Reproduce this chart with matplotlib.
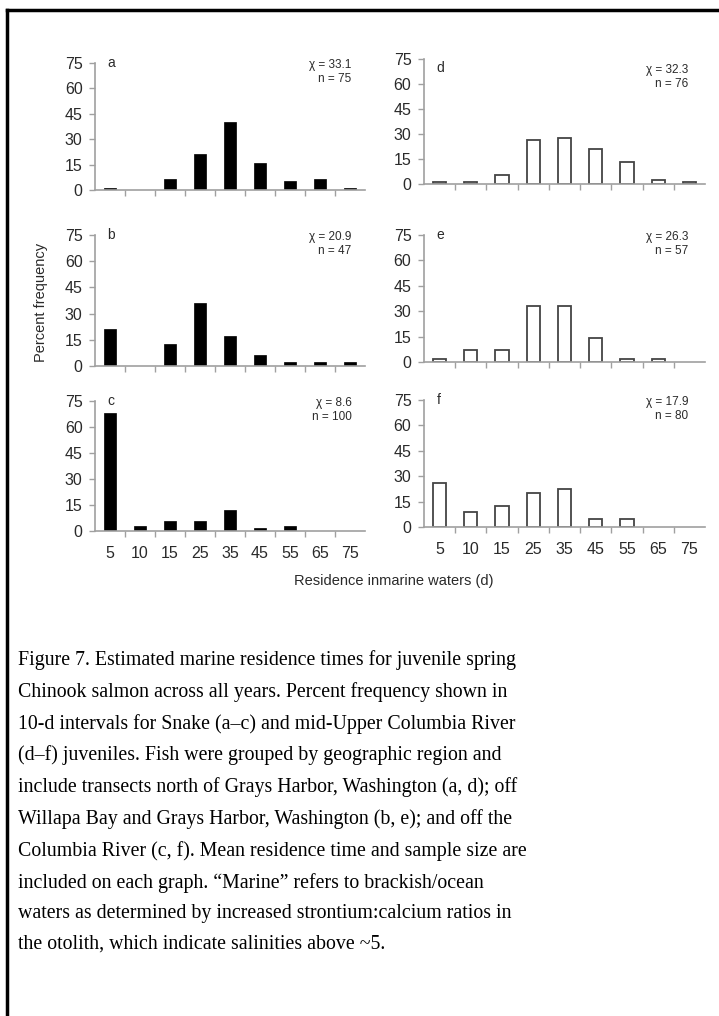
import matplotlib
matplotlib.use("Agg")
import matplotlib.pyplot as plt
from matplotlib.lines import Line2D
import numpy as np

plt.rcParams['font.family'] = ['Liberation Sans', 'DejaVu Sans']

# residence bins (d)
bins = ["5", "10", "15", "25", "35", "45", "55", "65", "75"]

# percent frequency, Snake River (left column)
snake_a = [1.3, 0, 6.7, 21.3, 40.0, 16.0, 5.3, 6.7, 1.3]
snake_b = [21.3, 0, 12.8, 36.2, 17.0, 6.4, 2.1, 2.1, 2.1]
snake_c = [68, 3, 6, 6, 12, 2, 3, 0, 0]
# percent frequency, mid-Upper Columbia (right column)
muc_d = [1.3, 1.3, 5.3, 26.3, 27.6, 21.1, 13.2, 2.6, 1.3]
muc_e = [1.75, 7.0, 7.0, 33.3, 33.3, 14.0, 1.75, 1.75, 0]
muc_f = [26.25, 8.75, 12.5, 20.0, 22.5, 5.0, 5.0, 0, 0]

panel_letters = ["a", "b", "c", "d", "e", "f"]
means = ["33.1", "20.9", "8.6", "32.3", "26.3", "17.9"]
sizes = ["75", "47", "100", "76", "57", "80"]

yticks = [0, 15, 30, 45, 60, 75]

caption = [
    "Figure 7. Estimated marine residence times for juvenile spring",
    "Chinook salmon across all years. Percent frequency shown in",
    "10-d intervals for Snake (a\u2013c) and mid-Upper Columbia River",
    "(d\u2013f) juveniles. Fish were grouped by geographic region and",
    "include transects north of Grays Harbor, Washington (a, d); off",
    "Willapa Bay and Grays Harbor, Washington (b, e); and off the",
    "Columbia River (c, f). Mean residence time and sample size are",
    "included on each graph. \u201cMarine\u201d refers to brackish/ocean",
    "waters as determined by increased strontium:calcium ratios in",
    "the otolith, which indicate salinities above ~5.",
]

W, H = 719, 1016
fig = plt.figure(figsize=(W / 100, H / 100), dpi=100)
fig.patch.set_facecolor("white")

# frame lines (top and left)
fig.add_artist(Line2D([7 / W, 1], [1 - 10 / H, 1 - 10 / H], color="black", lw=2.5, transform=fig.transFigure))
fig.add_artist(Line2D([7 / W, 7 / W], [0, 1 - 10 / H], color="black", lw=2.5, transform=fig.transFigure))

def px_axes(x0, x1, ytop, ybot):
    return fig.add_axes([x0 / W, 1 - ybot / H, (x1 - x0) / W, (ybot - ytop) / H])

# (x0, x1, y75, y0) in pixels
boxes = [
    (95, 365, 63, 190), (95, 365, 235, 366), (95, 365, 401, 531),
    (424, 705, 59, 184), (424, 705, 235, 362), (424, 705, 400, 527),
]
series = [snake_a, snake_b, snake_c, muc_d, muc_e, muc_f]
axcol = "#a0a0a0"
txtcol = "#2a2a2a"
x = np.arange(len(bins))

for i, (box, vals) in enumerate(zip(boxes, series)):
    ax = px_axes(*box)
    right = i >= 3
    vals = np.array(vals, dtype=float)
    keep = vals > 0
    if right:
        ax.bar(x[keep], vals[keep], width=0.42, facecolor="white", edgecolor="#444444", linewidth=1.3)
    else:
        ax.bar(x[keep], vals[keep], width=0.42, color="black", edgecolor="black", linewidth=0.5)
    ax.set_xlim(-0.5, len(bins) - 0.5)
    ax.set_ylim(0, 75)
    for s in ["top", "right"]:
        ax.spines[s].set_visible(False)
    for s in ["left", "bottom"]:
        ax.spines[s].set_color(axcol)
        ax.spines[s].set_linewidth(1.2)
    ax.set_yticks(yticks)
    ax.tick_params(axis="y", direction="out", length=4, width=1, color=axcol,
                   labelsize=11.5, labelcolor=txtcol, pad=5)
    ax.set_xticks(x)
    ax.set_xticks(x[:-1] + 0.5, minor=True)
    ax.tick_params(axis="x", which="minor", direction="out", length=4, width=1, color=axcol)
    ax.tick_params(axis="x", which="major", length=0, pad=11, labelsize=11.5, labelcolor=txtcol)
    if i in (2, 5):
        ax.set_xticklabels(bins)
    else:
        ax.set_xticklabels([])
    ax.set_facecolor("none")
    # panel d sits a little lower in the original
    ly, ty = (0.93, 0.96) if i == 3 else (1.0, 1.03)
    ax.text(0.045, ly, panel_letters[i], transform=ax.transAxes,
            ha="left", va="center", fontsize=10, color=txtcol)
    ax.text(0.95 if not right else 0.94, ty,
            "\u03c7 = %s\nn = %s" % (means[i], sizes[i]),
            transform=ax.transAxes, ha="right", va="top", multialignment="right",
            fontsize=8.5, color=txtcol, linespacing=1.25)

fig.text(41 / W, 1 - 302 / H, "Percent frequency", rotation=90, ha="center", va="center",
         fontsize=10.5, color=txtcol)
fig.text(394 / W, 1 - 581 / H, "Residence inmarine waters (d)", ha="center", va="center",
         fontsize=10.5, color=txtcol)

fig.text(18 / W, 1 - 650 / H, "\n".join(caption), ha="left", va="top",
         fontsize=14.3, family=["Liberation Serif", "DejaVu Serif"], color="black", linespacing=1.80)

fig.savefig("out.png", dpi=100, facecolor="white")
